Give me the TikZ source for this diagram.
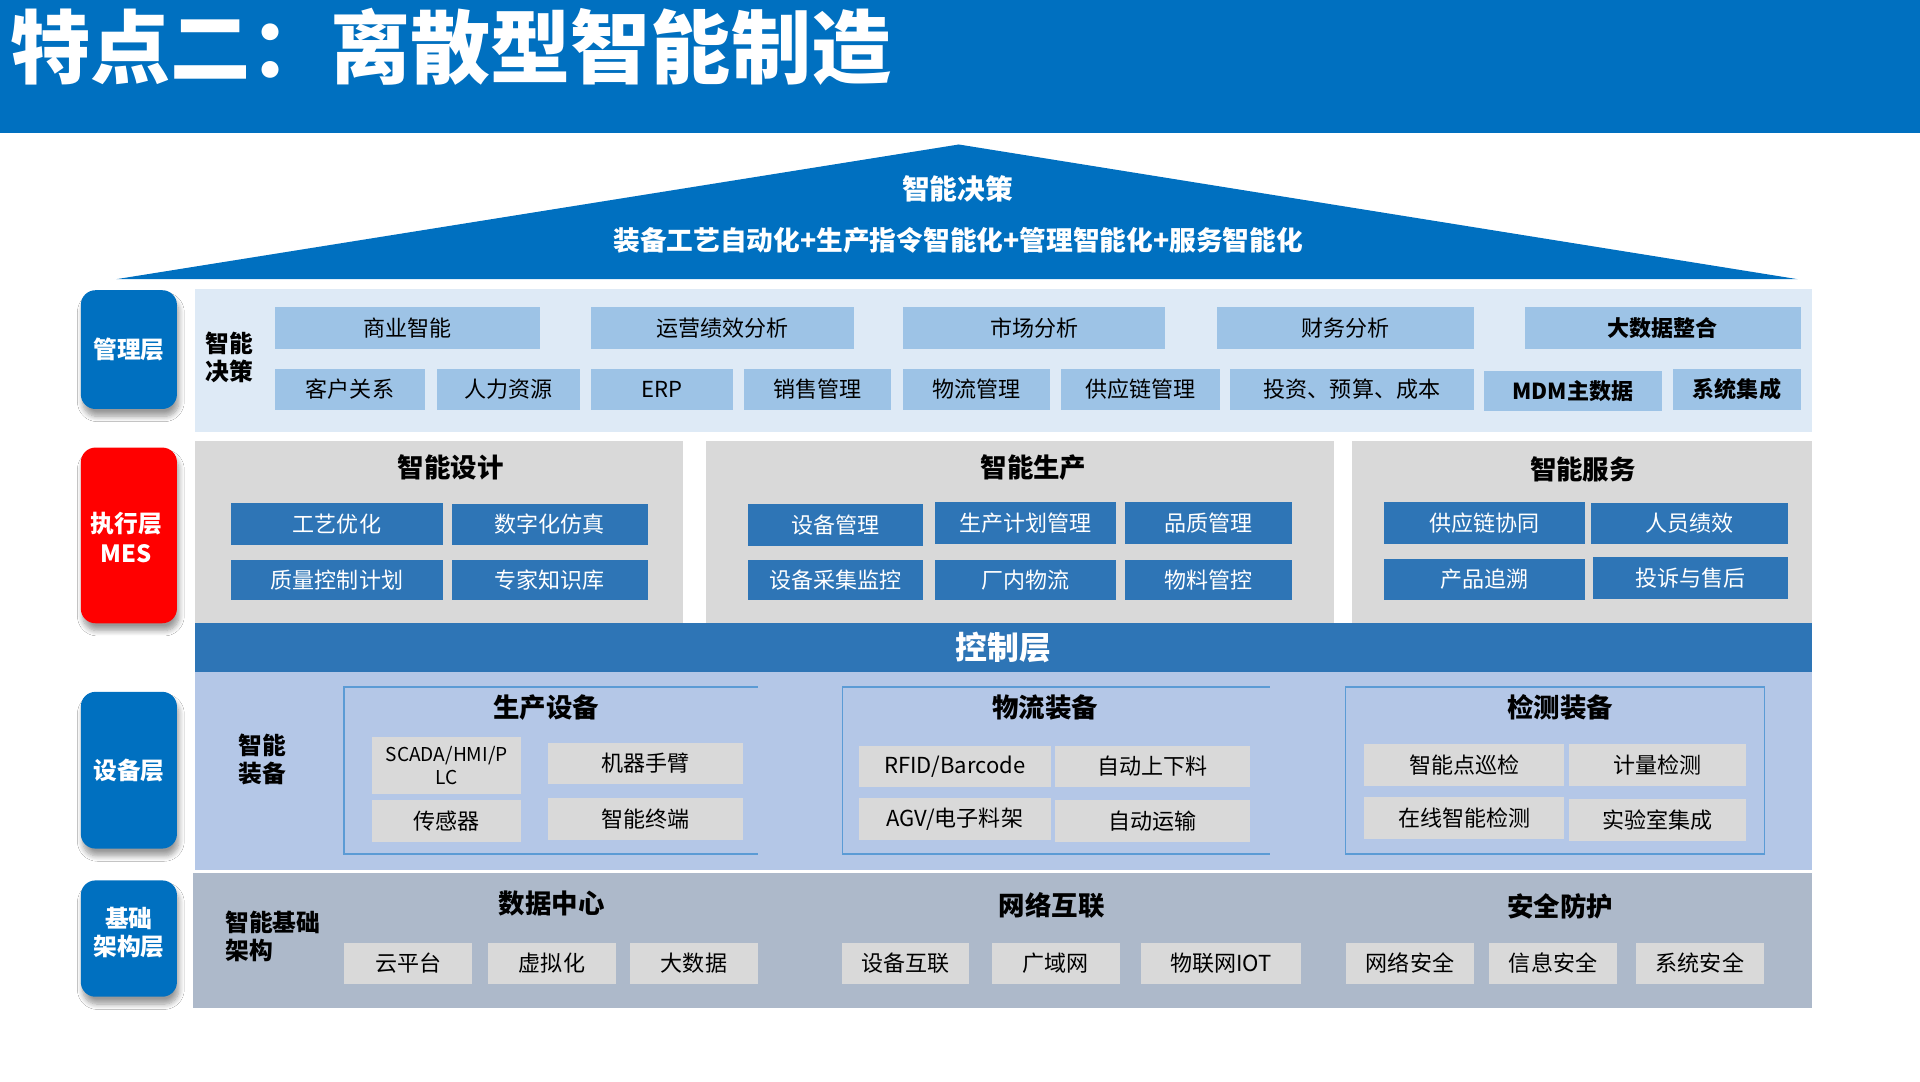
\documentclass[tikz,border=0pt]{standalone}
\usepackage{fontspec}
\setmainfont{Noto Sans CJK SC}
\usetikzlibrary{shadows.blur}
\definecolor{topblue}{HTML}{0070C0}
\definecolor{mgpanel}{HTML}{DEEAF6}
\definecolor{mgboxc}{HTML}{9DC3E6}
\definecolor{graypanel}{HTML}{D9D9D9}
\definecolor{darkboxc}{HTML}{2E75B6}
\definecolor{eqpanel}{HTML}{B4C7E7}
\definecolor{grayboxc}{HTML}{D9D9D9}
\definecolor{framec}{HTML}{5B9BD5}
\definecolor{infpanel}{HTML}{ADB9CA}
\definecolor{redc}{HTML}{FF0000}
\newcommand\bx[7]{%
\pgfmathsetmacro\bxcx{(#2+#4)/2}%
\pgfmathsetmacro\bxcy{(#3+#5)/2}%
\pgfmathsetmacro\bxw{(#4-#2)*0.5}%
\pgfmathsetmacro\bxh{(#5-#3)*0.5}%
\node[#6,minimum width=\bxw pt,minimum height=\bxh pt] (#1) at (\bxcx,\bxcy) {#7};}
\tikzset{
  base/.style={inner sep=0pt, outer sep=0pt, draw=none},
  panel/.style={base},
  mgbox/.style={base, fill=mgboxc, font=\fontsize{9}{10}\selectfont},
  mgboxb/.style={mgbox, font=\bfseries\fontsize{9}{10}\selectfont},
  dbox/.style={base, fill=darkboxc, text=white, font=\fontsize{9}{10}\selectfont},
  gbox/.style={base, fill=grayboxc, font=\fontsize{9}{10}\selectfont},
  lbl/.style={base, rounded corners=6pt, text=white, align=center,
    font=\bfseries\fontsize{9.7}{12}\selectfont,
    blur shadow={shadow xshift=0.8pt, shadow yshift=-3pt, shadow blur steps=8, shadow opacity=40}},
  lbltext/.style={inner sep=0pt, text=white, align=center, font=\bfseries\fontsize{9.7}{11.5}\selectfont},
  ttl/.style={inner sep=0pt, font=\bfseries\fontsize{10.8}{12}\selectfont},
  side/.style={inner sep=0pt, align=left, font=\bfseries\fontsize{9.7}{11.5}\selectfont},
  frame/.style={draw=framec, line width=0.6pt},
}
\begin{document}
\begin{tikzpicture}[x=0.5pt,y=-0.5pt]
\useasboundingbox (0,0) rectangle (1568,883);
\fill[white] (0,0) rectangle (1568,883);
% title bar
\fill[topblue] (0,0) rectangle (1568,108.4);
\node[anchor=west, text=white, inner sep=0pt, font=\bfseries\fontsize{32.7}{34}\selectfont] (title) at (8,38) {特点二：离散型智能制造};
% roof
\coordinate (roofL) at (95,228);
\coordinate (roofT) at (783,118);
\coordinate (roofR) at (1468,228);
\fill[topblue] (roofL) -- (roofT) -- (roofR) -- cycle;
\node[text=white, inner sep=0pt, font=\bfseries\fontsize{11.3}{12}\selectfont] (roof1) at (782,154) {智能决策};
\node[text=white, inner sep=0pt, font=\bfseries\fontsize{10.9}{12}\selectfont] (roof2) at (782.5,196.5) {装备工艺自动化+生产指令智能化+管理智能化+服务智能化};

% left labels
\bx{Lmg}{66}{237}{144.5}{334}{lbl, fill=topblue}{管理层}
\bx{Lex}{66}{365.5}{144.5}{509}{lbl, fill=redc}{}
\node[lbltext, font=\bfseries\fontsize{9.7}{12}\selectfont] (Lextext) at (103,439) {执行层\\MES};
\bx{Leq}{66}{565}{144.5}{693}{lbl, fill=topblue}{设备层}
\bx{Lin}{66}{719}{144.5}{814}{lbl, fill=topblue}{}
\node[lbltext] (Lintext) at (105.25,761.5) {基础\\架构层};

% management panel
\bx{Pmg}{159}{236}{1480}{352.5}{panel, fill=mgpanel}{}
\node[side] (mgside) at (187.5,292) {智能\\决策};
\bx{m1}{224.6}{250.7}{440.6}{284.7}{mgbox}{商业智能}
\bx{m2}{482.6}{250.7}{697.6}{284.7}{mgbox}{运营绩效分析}
\bx{m3}{737.6}{250.7}{951.5}{284.7}{mgbox}{市场分析}
\bx{m4}{994}{250.7}{1203.6}{284.7}{mgbox}{财务分析}
\bx{m5}{1245}{250.7}{1471}{284.7}{mgboxb}{大数据整合}
\bx{n1}{224.6}{301}{347}{334.5}{mgbox}{客户关系}
\bx{n2}{357}{301}{473.6}{334.5}{mgbox}{人力资源}
\bx{n3}{482.6}{301}{598.6}{334.5}{mgbox}{ERP}
\bx{n4}{607.6}{301}{727.6}{334.5}{mgbox}{销售管理}
\bx{n5}{737.6}{301}{857.6}{334.5}{mgbox}{物流管理}
\bx{n6}{866.5}{301}{996.5}{334.5}{mgbox}{供应链管理}
\bx{n7}{1004.7}{301}{1203.6}{334.5}{mgbox}{投资、预算、成本}
\bx{n8}{1212}{303}{1357}{336}{mgboxb}{MDM主数据}
\bx{n9}{1366}{301}{1471}{334.5}{mgboxb}{系统集成}

% execution panels
\bx{Pd}{159}{360}{558}{509.5}{panel, fill=graypanel}{}
\bx{Pp}{576.5}{360}{1089.6}{509.5}{panel, fill=graypanel}{}
\bx{Ps}{1104}{360}{1480}{509.5}{panel, fill=graypanel}{}
\node[ttl] (td) at (368,382) {智能设计};
\node[ttl] (tp) at (844,382) {智能生产};
\node[ttl] (ts) at (1292.7,383) {智能服务};
\bx{d1}{188.6}{411}{361.8}{445}{dbox}{工艺优化}
\bx{d2}{369}{411.5}{529}{445}{dbox}{数字化仿真}
\bx{d3}{188.6}{457}{361.8}{490}{dbox}{质量控制计划}
\bx{d4}{369}{457}{529}{490}{dbox}{专家知识库}
\bx{p1}{611}{411.6}{754}{446}{dbox}{设备管理}
\bx{p2}{763.6}{410}{911.6}{444}{dbox}{生产计划管理}
\bx{p3}{918.7}{410}{1055}{444}{dbox}{品质管理}
\bx{p4}{611}{457}{754}{490}{dbox}{设备采集监控}
\bx{p5}{763.6}{457}{911.6}{490}{dbox}{厂内物流}
\bx{p6}{918.7}{457}{1055}{490}{dbox}{物料管控}
\bx{s1}{1130}{410}{1294.5}{444}{dbox}{供应链协同}
\bx{s2}{1299}{411}{1460}{444}{dbox}{人员绩效}
\bx{s3}{1130}{456.5}{1294.5}{490}{dbox}{产品追溯}
\bx{s4}{1301}{455}{1460}{489}{dbox}{投诉与售后}

% control bar
\bx{ctrl}{159}{509}{1480}{549}{base, fill=darkboxc, text=white, font=\bfseries\fontsize{13}{14}\selectfont}{控制层}

% equipment panel
\bx{Peq}{159}{549}{1480}{710.5}{panel, fill=eqpanel}{}
\node[side, align=center] (eqside) at (214,620) {智能\\装备};
\draw[frame] (619,561) -- (281,561) -- (281,697.5) -- (619,697.5);
\draw[frame] (1037,561) -- (688,561) -- (688,697.5) -- (1037,697.5);
\draw[frame] (1099,561) rectangle (1441,697.5);
\node[ttl] (te1) at (446,578) {生产设备};
\node[ttl] (te2) at (853.5,578) {物流装备};
\node[ttl] (te3) at (1274,578) {检测装备};
\bx{e1}{304}{602}{425.6}{648.6}{gbox, align=center, font=\fontsize{7.8}{9.5}\selectfont}{SCADA/HMI/P\\LC}
\bx{e2}{447.5}{607}{607}{640}{gbox}{机器手臂}
\bx{e3}{304}{653}{425.6}{687.5}{gbox}{传感器}
\bx{e4}{447.5}{651.7}{607}{686}{gbox}{智能终端}
\bx{f1}{701.6}{609}{858}{642.6}{gbox}{RFID/Barcode}
\bx{f2}{861.6}{609}{1021}{642.6}{gbox}{自动上下料}
\bx{f3}{701.6}{651.7}{858}{686}{gbox}{AGV/电子料架}
\bx{f4}{861.6}{653}{1021}{687.5}{gbox}{自动运输}
\bx{g1}{1114}{607.6}{1277.6}{641.8}{gbox}{智能点巡检}
\bx{g2}{1281.6}{607.6}{1426}{641.6}{gbox}{计量检测}
\bx{g3}{1114}{651}{1277.6}{685}{gbox}{在线智能检测}
\bx{g4}{1281.6}{652.6}{1426}{686.8}{gbox}{实验室集成}

% infrastructure panel
\bx{Pin}{158}{713}{1480}{823}{panel, fill=infpanel}{}
\node[side, anchor=west] (inside) at (183.7,764.5) {智能基础\\架构};
\node[ttl] (ti1) at (450.6,737.6) {数据中心};
\node[ttl] (ti2) at (859,739.5) {网络互联};
\node[ttl] (ti3) at (1274,740.5) {安全防护};
\bx{i1}{281}{770}{385.5}{803.6}{gbox}{云平台}
\bx{i2}{398.6}{770}{503}{803.6}{gbox}{虚拟化}
\bx{i3}{514.5}{770}{619}{803.6}{gbox}{大数据}
\bx{i4}{687.6}{770}{791}{803.6}{gbox}{设备互联}
\bx{i5}{810}{770}{914.7}{803.6}{gbox}{广域网}
\bx{i6}{931.9}{770}{1062.5}{803.6}{gbox}{物联网IOT}
\bx{i7}{1099}{770}{1204}{803.6}{gbox}{网络安全}
\bx{i8}{1216}{770}{1320.6}{803.6}{gbox}{信息安全}
\bx{i9}{1336}{770}{1440.6}{803.6}{gbox}{系统安全}
\end{tikzpicture}
\end{document}
